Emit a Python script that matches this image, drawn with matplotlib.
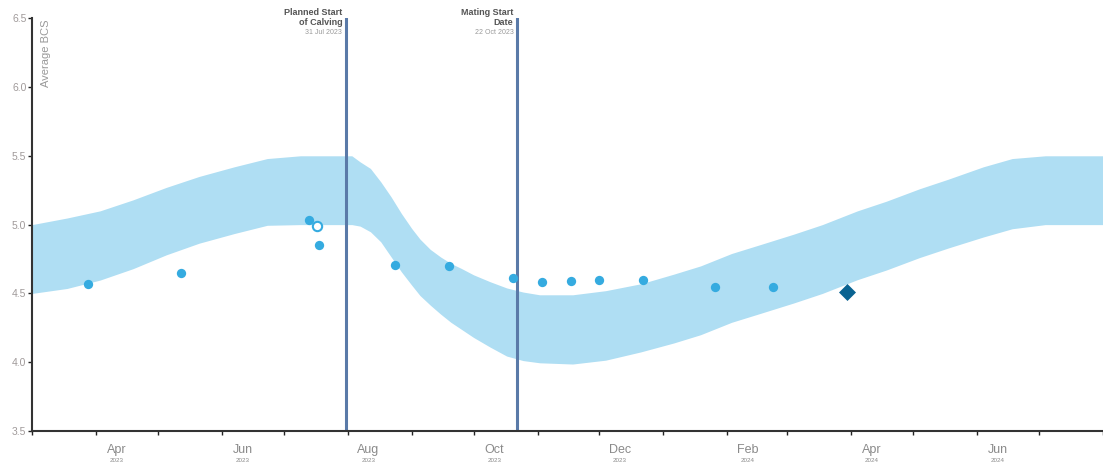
import pandas as pd
import matplotlib.pyplot as plt
import matplotlib.dates as mdates

plt.rcParams['font.family'] = ['Liberation Sans Narrow', 'Liberation Sans', 'DejaVu Sans']

# target band (upper / lower BCS bound)
band_dates = pd.to_datetime([
    '2023-03-01', '2023-03-18', '2023-04-03', '2023-04-19', '2023-05-05', '2023-05-21',
    '2023-06-07', '2023-06-23', '2023-07-09', '2023-08-03', '2023-08-07', '2023-08-12',
    '2023-08-17', '2023-08-22', '2023-08-27', '2023-09-01', '2023-09-05', '2023-09-10',
    '2023-09-15', '2023-09-20', '2023-09-25', '2023-10-01', '2023-10-09', '2023-10-17',
    '2023-10-25', '2023-11-02', '2023-11-18', '2023-12-04', '2023-12-21', '2024-01-06',
    '2024-01-19', '2024-02-03', '2024-02-17', '2024-03-04', '2024-03-18', '2024-04-04',
    '2024-04-18', '2024-05-04', '2024-05-18', '2024-06-04', '2024-06-18', '2024-07-04',
    '2024-08-01'])
band_upper = [5.00, 5.048, 5.10, 5.18, 5.27, 5.35,
              5.42, 5.48, 5.50, 5.50, 5.456, 5.408,
              5.311, 5.202, 5.081, 4.972, 4.895, 4.82,
              4.765, 4.718, 4.682, 4.635, 4.585, 4.54,
              4.51, 4.49, 4.49, 4.52, 4.57, 4.64,
              4.70, 4.79, 4.855, 4.93, 5.00, 5.10,
              5.17, 5.26, 5.33, 5.42, 5.48, 5.50,
              5.50]
band_lower = [4.50, 4.536, 4.597, 4.68, 4.78, 4.865,
              4.935, 4.995, 5.00, 5.00, 4.989, 4.948,
              4.875, 4.766, 4.657, 4.56, 4.485, 4.415,
              4.35, 4.29, 4.24, 4.18, 4.11, 4.045,
              4.012, 3.996, 3.987, 4.015, 4.075, 4.14,
              4.20, 4.29, 4.355, 4.43, 4.50, 4.60,
              4.67, 4.76, 4.83, 4.91, 4.97, 5.00,
              5.00]

# measured average BCS
obs_dates = pd.to_datetime([
    '2023-03-28', '2023-05-12', '2023-07-13', '2023-07-18', '2023-08-24', '2023-09-19',
    '2023-10-20', '2023-11-03', '2023-11-17', '2023-12-01', '2023-12-22', '2024-01-26',
    '2024-02-23'])
obs_bcs = [4.57, 4.65, 5.03, 4.85, 4.71, 4.70, 4.61, 4.58, 4.59, 4.60, 4.60, 4.55, 4.55]

open_dates = pd.to_datetime(['2023-07-17'])
open_bcs = [4.99]

latest_dates = pd.to_datetime(['2024-03-30'])
latest_bcs = [4.51]

# key dates
event_dates = pd.to_datetime(['2023-07-31', '2023-10-22'])
event_titles = ['Planned Start\nof Calving', 'Mating Start\nDate']
event_labels = ['31 Jul 2023', '22 Oct 2023']

month_labels = ['Apr', 'Jun', 'Aug', 'Oct', 'Dec', 'Feb', 'Apr', 'Jun']
label_dates = pd.to_datetime(['2023-04-11', '2023-06-11', '2023-08-11', '2023-10-11',
                              '2023-12-11', '2024-02-11', '2024-04-11', '2024-06-11'])
year_labels = ['2023', '2023', '2023', '2023', '2023', '2024', '2024', '2024']

y_ticks = [3.5, 4.0, 4.5, 5.0, 5.5, 6.0, 6.5]

fig = plt.figure(figsize=(11.03, 4.66), dpi=100)
ax = fig.add_axes([0.029, 0.075, 0.971, 0.886])

ax.fill_between(band_dates, band_lower, band_upper, color='#afdef3', lw=0, zorder=1)

for d in event_dates:
    ax.axvline(d, color='#5a7aa8', lw=2.2, zorder=2)

ax.scatter(obs_dates, obs_bcs, s=45, color='#35abe0', lw=0, zorder=3)
ax.scatter(open_dates, open_bcs, s=45, facecolor='white', edgecolor='#35abe0', lw=1.5, zorder=3)
ax.scatter(latest_dates, latest_bcs, s=75, marker='D', color='#0a6391', lw=0, zorder=3)

for d, t, l in zip(event_dates, event_titles, event_labels):
    ax.annotate(t, xy=(d, 1), xycoords=('data', 'axes fraction'), xytext=(-2.5, 0.5),
                textcoords='offset points', ha='right', va='center', fontsize=6.5,
                color='#555555', linespacing=1.1, fontweight='bold')
    ax.annotate(l, xy=(d, 1), xycoords=('data', 'axes fraction'), xytext=(-2.5, -10.5),
                textcoords='offset points', ha='right', va='center', fontsize=5,
                color='#999999')

ax.set_xlim(pd.Timestamp('2023-03-01'), pd.Timestamp('2024-08-01'))
ax.set_ylim(3.5, 6.5)
ax.set_yticks(y_ticks)
ax.set_yticklabels([f'{v:.1f}' for v in y_ticks], fontsize=7.5, color='#a09a9a')
ax.tick_params(axis='y', length=3, width=1, pad=1, color='#222222')

ax.set_xticks(label_dates)
ax.set_xticklabels(month_labels, fontsize=9, color='#8a8a8a')
ax.tick_params(axis='x', which='major', length=0, pad=9)
ax.xaxis.set_minor_locator(mdates.MonthLocator())
ax.tick_params(axis='x', which='minor', length=3, width=1, color='#222222')

for d, y in zip(label_dates, year_labels):
    ax.annotate(y, xy=(d, 0), xycoords=('data', 'axes fraction'), xytext=(0, -21.5),
                textcoords='offset points', ha='center', va='center', fontsize=4.5,
                color='#8a8a8a')

ax.text(0.008, 0.997, 'Average BCS', transform=ax.transAxes, rotation=90, ha='left', va='top',
        fontsize=8, color='#999999', family=['Liberation Sans', 'DejaVu Sans'])

for s in ['top', 'right']:
    ax.spines[s].set_visible(False)
for s in ['left', 'bottom']:
    ax.spines[s].set_color('#333333')
    ax.spines[s].set_linewidth(1.5)

fig.savefig('out.png', dpi=100)
